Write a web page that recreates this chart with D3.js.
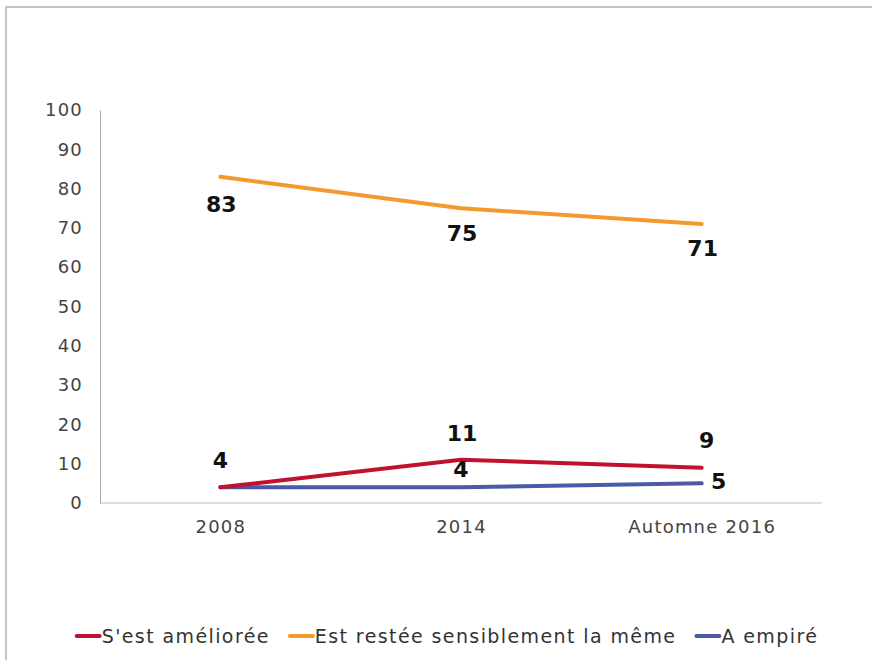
<!DOCTYPE html>
<html lang="fr">
<head>
<meta charset="UTF-8">
<title>Evolution</title>
<script src="https://cdn.jsdelivr.net/npm/d3@7/dist/d3.min.js"></script>
<style>
    body { margin: 0; background: #fff; font-family: "DejaVu Sans", Verdana, sans-serif; }
    svg { display: block; }
</style>
</head>
<body>
<div id="chart"></div>
<script>
// data
const categories = ["2008", "2014", "Automne 2016"];
const seriesNames = ["S'est améliorée", "Est restée sensiblement la même", "A empiré"];
const ameliore = [4, 11, 9];
const meme = [83, 75, 71];
const empire = [4, 4, 5];
const yTicks = [0, 10, 20, 30, 40, 50, 60, 70, 80, 90, 100];

const colors = ["#C0112F", "#F29B2C", "#4A5AA8"];

// where each value label sits relative to its point (null = hidden)
const labelOffsets = [
    [[0, -27], [1, -26], [5, -27]],
    [[1, 28], [1, 25], [1, 25]],
    [null, [0, -18], [17, -2]]
];

const width = 872, height = 660;
const svg = d3.select("#chart").append("svg")
    .attr("width", width)
    .attr("height", height);

// outer frame
svg.append("rect")
    .attr("x", 6).attr("y", 7)
    .attr("width", width).attr("height", height)
    .attr("fill", "none")
    .attr("stroke", "#c4c4c4")
    .attr("stroke-width", 2);

const x = d3.scalePoint().domain(categories).range([100, 822]).padding(0.5);
const y = d3.scaleLinear().domain([0, 100]).range([503, 110]);

function styleTicks(sel) {
    sel.selectAll("text")
        .attr("font-family", "DejaVu Sans, sans-serif")
        .attr("font-size", 18)
        .attr("letter-spacing", 1.2)
        .attr("fill", "#444");
}

// y axis
const yAxis = svg.append("g")
    .attr("transform", "translate(100,0)")
    .call(d3.axisLeft(y).tickValues(yTicks).tickSize(0).tickPadding(17));
yAxis.select(".domain").attr("stroke", "#aaa");
styleTicks(yAxis);

// x axis
const xAxis = svg.append("g")
    .attr("transform", "translate(0,503)")
    .call(d3.axisBottom(x).tickSize(0).tickPadding(17));
xAxis.select(".domain").attr("stroke", "#bbb").attr("d", "M100,0H822");
styleTicks(xAxis);

const series = [ameliore, meme, empire].map((vals, i) => ({
    name: seriesNames[i],
    color: colors[i],
    values: vals.map((v, j) => ({ cat: categories[j], v: v, off: labelOffsets[i][j] }))
}));

const line = d3.line().x(d => x(d.cat)).y(d => y(d.v));

// orange first, then blue, red on top
[1, 2, 0].forEach(i => {
    svg.append("path")
        .datum(series[i].values)
        .attr("d", line)
        .attr("fill", "none")
        .attr("stroke", series[i].color)
        .attr("stroke-width", 4)
        .attr("stroke-linecap", "round")
        .attr("stroke-linejoin", "round");
});

series.forEach(s => {
    svg.append("g").selectAll("text")
        .data(s.values.filter(d => d.off))
        .enter().append("text")
        .attr("x", d => x(d.cat) + d.off[0])
        .attr("y", d => y(d.v) + d.off[1])
        .attr("text-anchor", "middle")
        .attr("dominant-baseline", "central")
        .attr("font-family", "DejaVu Sans, sans-serif")
        .attr("font-weight", "bold")
        .attr("font-size", 22)
        .attr("fill", "#111")
        .text(d => d.v);
});

// legend, laid out from measured text widths and centred
const legend = svg.append("g");
let lx = 0;
series.forEach((s, i) => {
    const g = legend.append("g").attr("transform", `translate(${lx},0)`);
    g.append("line")
        .attr("x1", 1).attr("x2", 24)
        .attr("y1", 0).attr("y2", 0)
        .attr("stroke", s.color)
        .attr("stroke-width", 4)
        .attr("stroke-linecap", "round");
    const t = g.append("text")
        .attr("x", 26)
        .attr("dominant-baseline", "central")
        .attr("font-family", "DejaVu Sans, sans-serif")
        .attr("font-size", 19)
        .attr("letter-spacing", 1.4)
        .attr("fill", "#333")
        .text(s.name);
    lx += 26 + t.node().getComputedTextLength() + 19;
});
const legendWidth = lx - 19;
legend.attr("transform", `translate(${447 - legendWidth / 2},636)`);
</script>
</body>
</html>
